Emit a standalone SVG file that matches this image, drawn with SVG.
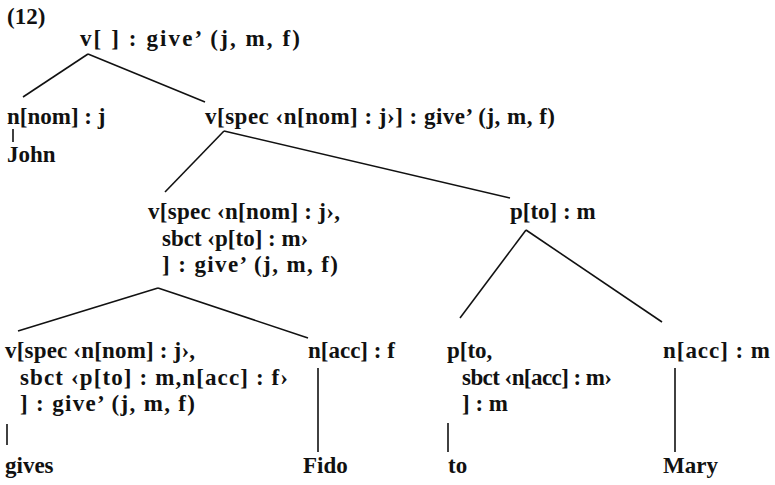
<svg xmlns="http://www.w3.org/2000/svg" width="775" height="485" viewBox="0 0 775 485">
<style>
text{font-family:"Liberation Serif","Times New Roman",serif;font-size:23px;font-weight:bold;fill:#111}
line{stroke:#111;stroke-width:1.6}
</style>
<rect width="775" height="485" fill="#fff"/>
<text x="7" y="24">(12)</text>
<g id="connectors">
<line x1="88" y1="54" x2="23" y2="97"/>
<line x1="88" y1="54" x2="205" y2="102"/>
<line x1="13" y1="129" x2="13" y2="142"/>
<line x1="224" y1="131" x2="165" y2="192"/>
<line x1="224" y1="131" x2="510" y2="198"/>
<line x1="158" y1="288" x2="18" y2="331"/>
<line x1="158" y1="288" x2="308" y2="338"/>
<line x1="526" y1="230" x2="460" y2="318"/>
<line x1="526" y1="230" x2="662" y2="322"/>
<line x1="7" y1="424" x2="7" y2="445"/>
<line x1="318" y1="368" x2="318" y2="452"/>
<line x1="448" y1="423" x2="448" y2="452"/>
<line x1="675" y1="368" x2="675" y2="452"/>
</g>
<g id="root"><text x="80" y="46" textLength="220" lengthAdjust="spacing">v[ ] : give’ (j, m, f)</text></g>
<g id="n-nom"><text x="7" y="124">n[nom] : j</text></g>
<g id="john"><text x="7" y="162">John</text></g>
<g id="v-spec"><text x="205" y="124" textLength="350" lengthAdjust="spacing">v[spec ‹n[nom] : j›] : give’ (j, m, f)</text></g>
<g id="v-spec-sbct">
<text x="148" y="219" textLength="192" lengthAdjust="spacing">v[spec ‹n[nom] : j›,</text>
<text x="162" y="246">sbct ‹p[to] : m›</text>
<text x="162" y="272" textLength="176" lengthAdjust="spacing">] : give’ (j, m, f)</text>
</g>
<g id="p-to-m"><text x="510" y="219">p[to] : m</text></g>
<g id="v-full">
<text x="5" y="358" textLength="190" lengthAdjust="spacing">v[spec ‹n[nom] : j›,</text>
<text x="20" y="385" textLength="268" lengthAdjust="spacing">sbct ‹p[to] : m,n[acc] : f›</text>
<text x="20" y="411" textLength="175" lengthAdjust="spacing">] : give’ (j, m, f)</text>
</g>
<g id="n-acc-f"><text x="308" y="358">n[acc] : f</text></g>
<g id="p-to">
<text x="447" y="358">p[to,</text>
<text x="462" y="385" textLength="150" lengthAdjust="spacing">sbct ‹n[acc] : m›</text>
<text x="462" y="411">] : m</text>
</g>
<g id="n-acc-m"><text x="663" y="358" textLength="107" lengthAdjust="spacing">n[acc] : m</text></g>
<g id="gives"><text x="5" y="473">gives</text></g>
<g id="fido"><text x="303" y="473">Fido</text></g>
<g id="to"><text x="448" y="473">to</text></g>
<g id="mary"><text x="663" y="473">Mary</text></g>
</svg>
